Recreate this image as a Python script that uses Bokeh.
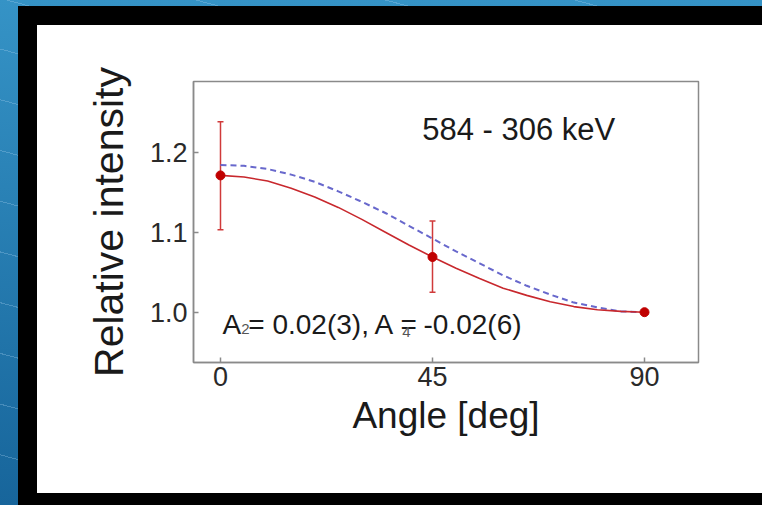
from bokeh.plotting import figure
from bokeh.models import (Range1d, FixedTicker, Label, Whisker,
                          ColumnDataSource, TeeHead, NumeralTickFormatter)
from bokeh.embed import file_html
from bokeh.resources import INLINE

# ---- data ----
angles = [0, 45, 90]
intensity = [1.171, 1.069, 1.000]
err_upper = [1.238, 1.114, 1.000]
err_lower = [1.103, 1.025, 1.000]

fit_angles = [0, 5, 10, 15, 20, 25, 30, 35, 40, 45, 50, 55, 60, 65, 70, 75, 80, 85, 90]
fit_red = [1.171, 1.169, 1.164, 1.155, 1.144, 1.131, 1.116, 1.100, 1.084, 1.069,
           1.055, 1.042, 1.030, 1.021, 1.013, 1.007, 1.003, 1.001, 1.000]
fit_blue = [1.184, 1.183, 1.179, 1.172, 1.163, 1.151, 1.138, 1.124, 1.108, 1.092,
            1.076, 1.061, 1.046, 1.033, 1.022, 1.012, 1.006, 1.001, 1.000]

x_ticks = [0, 45, 90]
y_ticks = [1.0, 1.1, 1.2]

W, H = 762, 505
FONT = "Liberation Sans"

p = figure(width=W, height=H, output_backend="svg", toolbar_location=None,
           x_range=Range1d(-5.73, 101.46), y_range=Range1d(0.9371, 1.2884),
           min_border_left=193, min_border_right=64, min_border_top=81,
           min_border_bottom=143)
p.title.visible = False
p.grid.visible = False
p.background_fill_color = "white"
p.border_fill_alpha = 0
p.outline_line_color = "#8a8a8a"
p.outline_line_width = 1.5

# ---- page decoration: blue background, black frame, white panel ----
p.styles = {
    "background": (
        "linear-gradient(#ffffff, #ffffff) 37px 25px / 725px 468px no-repeat, "
        "linear-gradient(#000000, #000000) 18px 6px / 744px 499px no-repeat, "
        "repeating-linear-gradient(195deg, rgba(255,255,255,0) 0px, rgba(255,255,255,0) 48px, "
        "rgba(170,210,240,0.3) 48px, rgba(170,210,240,0.3) 49px), "
        "linear-gradient(to bottom, #3593c6, #17659b)"
    )
}

# ---- axes ----
for ax in (p.xaxis, p.yaxis):
    ax.axis_line_color = "#8a8a8a"
    ax.axis_line_width = 1.5
    ax.major_tick_line_color = "#8a8a8a"
    ax.major_tick_line_width = 1.5
    ax.major_tick_in = 5
    ax.major_tick_out = 0
    ax.minor_tick_line_color = None
    ax.major_label_text_font = FONT
    ax.major_label_text_font_size = "27px"
    ax.major_label_text_color = "#2a2a2a"
    ax.axis_label_text_font = FONT
    ax.axis_label_text_font_style = "normal"
    ax.axis_label_text_color = "#1a1a1a"

p.xaxis.ticker = FixedTicker(ticks=x_ticks)
p.yaxis.ticker = FixedTicker(ticks=y_ticks)
p.yaxis.formatter = NumeralTickFormatter(format="0.0")
p.xaxis.major_label_standoff = 4
p.yaxis.major_label_standoff = 6
p.xaxis.axis_label = "Angle [deg]"
p.xaxis.axis_label_text_font_size = "37px"
p.xaxis.axis_label_standoff = 6
p.yaxis.axis_label = "Relative intensity"
p.yaxis.axis_label_text_font_size = "41px"
p.yaxis.axis_label_standoff = 15

# ---- curves ----
p.line(fit_angles, fit_blue, line_color="#6868cc", line_width=2, line_dash="6 4")
p.line(fit_angles, fit_red, line_color="#c8282d", line_width=1.6)

src = ColumnDataSource(dict(x=angles, y=intensity, upper=err_upper, lower=err_lower))
p.add_layout(Whisker(source=src, base="x", upper="upper", lower="lower",
                     line_color="#d03a3a", line_width=1.5,
                     upper_head=TeeHead(size=6, line_color="#d03a3a", line_width=1.5),
                     lower_head=TeeHead(size=6, line_color="#d03a3a", line_width=1.5)))
p.scatter("x", "y", source=src, size=9, fill_color="#c00000", line_color="#c00000")

# ---- text ----
def lab(x, y, text, size, color="#1a1a1a"):
    p.add_layout(Label(x=x, y=y, text=text, text_font=FONT, text_font_size=size,
                       text_color=color, text_baseline="alphabetic", text_align="left"))

lab(42.81, 1.2284, "584 - 306 keV", "31px")
lab(0.42, 0.9846, "A", "28px")
lab(4.4, 0.9796, "2", "15px", "#555555")
lab(5.9, 0.9846, "= 0.02(3),", "28px")
lab(32.7, 0.9846, "A", "28px")
lab(38.2, 0.9846, "=", "28px")
lab(38.6, 0.9758, "4", "15px", "#555555")
lab(43.09, 0.9846, "-0.02(6)", "28px")

open("out.html", "w").write(file_html(p, INLINE))
